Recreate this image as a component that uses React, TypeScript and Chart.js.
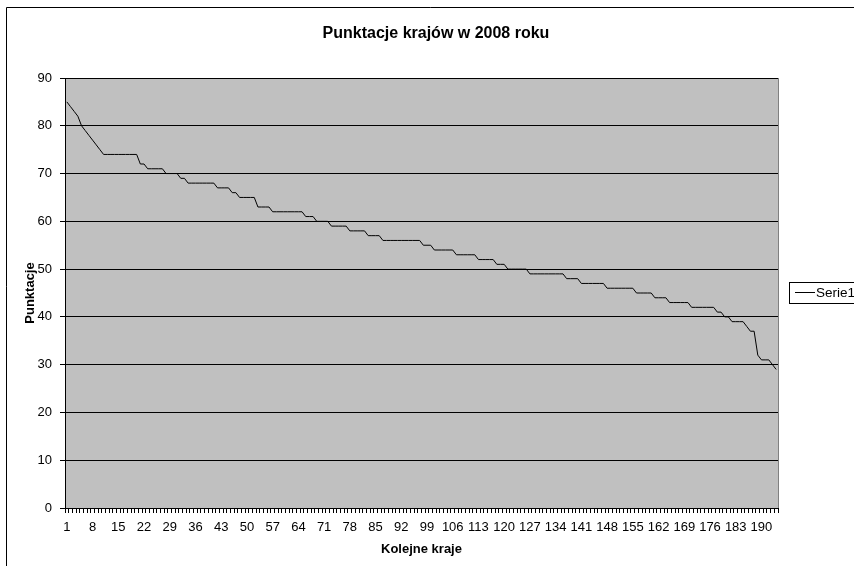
import React, { useEffect, useRef } from "react";
import { Chart, registerables } from "chart.js";

Chart.register(...registerables);

const TITLE = "Punktacje krajów w 2008 roku";
const X_TITLE = "Kolejne kraje";
const Y_TITLE = "Punktacje";
const SERIES_NAME = "Serie1";

const SCORES = [
  85, 84, 83, 82, 80, 79, 78, 77, 76, 75,
  74, 74, 74, 74, 74, 74, 74, 74, 74, 74,
  72, 72, 71, 71, 71, 71, 71, 70, 70, 70,
  70, 69, 69, 68, 68, 68, 68, 68, 68, 68,
  68, 67, 67, 67, 67, 66, 66, 65, 65, 65,
  65, 65, 63, 63, 63, 63, 62, 62, 62, 62,
  62, 62, 62, 62, 62, 61, 61, 61, 60, 60,
  60, 60, 59, 59, 59, 59, 59, 58, 58, 58,
  58, 58, 57, 57, 57, 57, 56, 56, 56, 56,
  56, 56, 56, 56, 56, 56, 56, 55, 55, 55,
  54, 54, 54, 54, 54, 54, 53, 53, 53, 53,
  53, 53, 52, 52, 52, 52, 52, 51, 51, 51,
  50, 50, 50, 50, 50, 50, 49, 49, 49, 49,
  49, 49, 49, 49, 49, 49, 48, 48, 48, 48,
  47, 47, 47, 47, 47, 47, 47, 46, 46, 46,
  46, 46, 46, 46, 46, 45, 45, 45, 45, 45,
  44, 44, 44, 44, 43, 43, 43, 43, 43, 43,
  42, 42, 42, 42, 42, 42, 42, 41, 41, 40,
  40, 39, 39, 39, 39, 38, 37, 37, 32, 31,
  31, 31, 30, 29,
];

const CATEGORIES = SCORES.map((_, i) => String(i + 1));
const LABEL_STEP = 7;
const Y_MIN = 0;
const Y_MAX = 90;
const Y_STEP = 10;

const FONT = "'Liberation Sans', Arial, sans-serif";

const decor = {
  id: "decor",
  beforeDraw(chart: any) {
    const { ctx, chartArea: a } = chart;
    ctx.save();
    ctx.fillStyle = "#ffffff";
    ctx.fillRect(0, 0, chart.width, chart.height);
    ctx.fillStyle = "#C0C0C0";
    ctx.fillRect(a.left, a.top, a.right - a.left, a.bottom - a.top);
    ctx.restore();
  },
  afterDraw(chart: any) {
    const { ctx, chartArea: a } = chart;
    ctx.save();
    // plot area right border (gray)
    ctx.strokeStyle = "#808080";
    ctx.lineWidth = 1;
    ctx.beginPath();
    const rx = Math.round(a.right) + 0.5;
    ctx.moveTo(rx, Math.round(a.top));
    ctx.lineTo(rx, Math.round(a.bottom));
    ctx.stroke();

    // outer chart border
    ctx.strokeStyle = "#000000";
    ctx.beginPath();
    ctx.moveTo(6.5, chart.height);
    ctx.lineTo(6.5, 7.5);
    ctx.lineTo(chart.width, 7.5);
    ctx.stroke();

    ctx.fillStyle = "#000000";
    // title
    ctx.font = `bold 16px ${FONT}`;
    ctx.textAlign = "center";
    ctx.textBaseline = "middle";
    ctx.fillText(TITLE, 436, 34);

    // x title
    ctx.font = `bold 13px ${FONT}`;
    ctx.fillText(X_TITLE, (a.left + a.right) / 2, 549);

    // y title
    ctx.save();
    ctx.translate(30, (a.top + a.bottom) / 2);
    ctx.rotate(-Math.PI / 2);
    ctx.fillText(Y_TITLE, 0, 0);
    ctx.restore();

    // legend
    ctx.strokeStyle = "#000000";
    ctx.strokeRect(789.5, 282.5, 90, 21);
    ctx.beginPath();
    ctx.moveTo(795, 292.5);
    ctx.lineTo(815, 292.5);
    ctx.stroke();
    ctx.font = `13.5px ${FONT}`;
    ctx.textAlign = "left";
    ctx.fillText(SERIES_NAME, 816, 293.5);
    ctx.restore();
  },
};

export default function App() {
  const ref = useRef<HTMLCanvasElement | null>(null);

  useEffect(() => {
    document.body.style.margin = "0";
    const canvas = ref.current;
    if (!canvas) return;
    const chart = new Chart(canvas, {
      type: "line",
      data: {
        labels: CATEGORIES,
        datasets: [
          {
            label: SERIES_NAME,
            data: SCORES,
            borderColor: "#000000",
            borderWidth: 1,
            pointRadius: 0,
            tension: 0,
            fill: false,
          },
        ],
      },
      options: {
        animation: false,
        responsive: false,
        devicePixelRatio: 1,
        layout: { padding: { top: 78, right: 76, bottom: 0, left: 0 } },
        plugins: {
          legend: { display: false },
          title: { display: false },
          tooltip: { enabled: false },
        },
        scales: {
          x: {
            type: "category",
            offset: true,
            grid: {
              display: true,
              drawOnChartArea: false,
              drawTicks: true,
              tickLength: 5,
              color: "#000000",
              lineWidth: 1,
              offset: true,
            },
            border: { display: true, color: "#000000", width: 1 },
            ticks: {
              autoSkip: false,
              maxRotation: 0,
              minRotation: 0,
              padding: 7,
              color: "#000000",
              font: { family: FONT, size: 13 },
              callback: (_v: any, i: number) =>
                i % LABEL_STEP === 0 ? CATEGORIES[i] : "",
            },
            afterFit: (s: any) => {
              s.height = 58;
            },
          },
          y: {
            min: Y_MIN,
            max: Y_MAX,
            ticks: {
              stepSize: Y_STEP,
              padding: 8,
              color: "#000000",
              font: { family: FONT, size: 13 },
            },
            grid: {
              color: "#000000",
              lineWidth: 1,
              tickLength: 5,
              drawTicks: true,
            },
            border: { display: true, color: "#000000", width: 1 },
            afterFit: (s: any) => {
              s.width = 65;
            },
          },
        },
      },
      plugins: [decor],
    });
    return () => chart.destroy();
  }, []);

  return (
    <div style={{ position: "absolute", left: 0, top: 0, width: 854, height: 566 }}>
      <canvas ref={ref} width={854} height={566} style={{ display: "block" }} />
    </div>
  );
}
